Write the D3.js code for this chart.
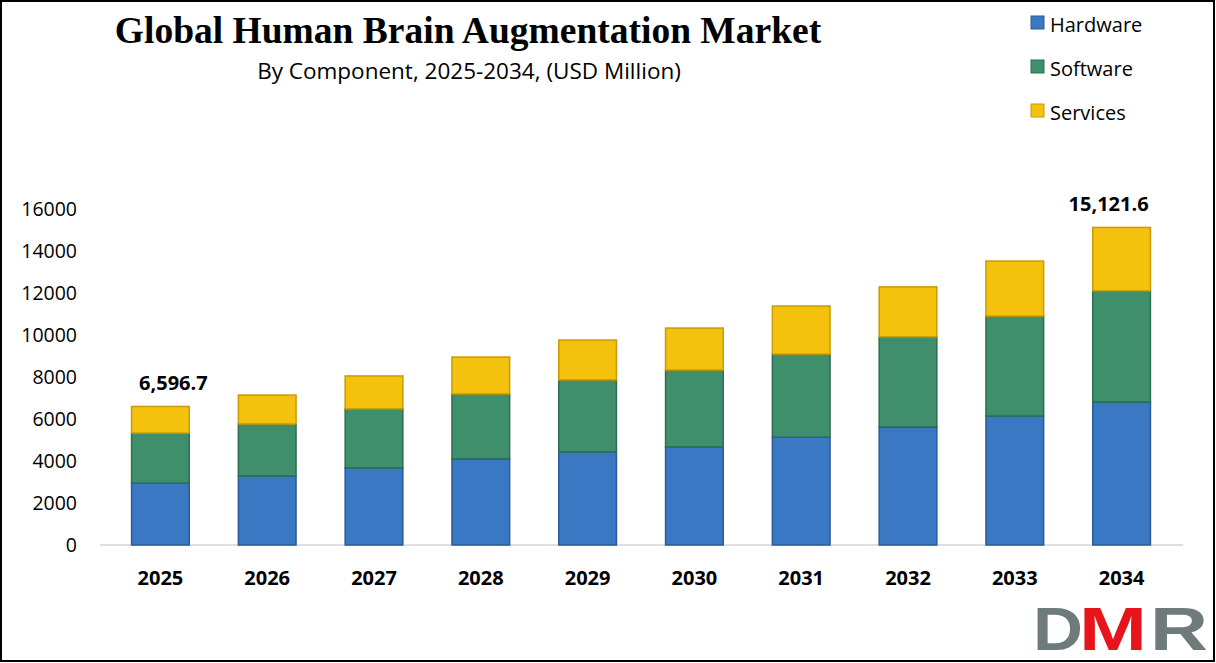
<!DOCTYPE html>
<html><head><meta charset="utf-8">
<script src="https://cdn.jsdelivr.net/npm/d3@7"></script>
<style>body{margin:0;background:#fff}svg{display:block}</style>
</head><body><svg id="c" width="1216" height="663"></svg>
<script>
const years=["2025","2026","2027","2028","2029","2030","2031","2032","2033","2034"];
const hardware=[2950,3290,3670,4100,4430,4670,5140,5620,6140,6810];
const software=[2380,2470,2810,3090,3430,3660,3950,4290,4760,5290];
const services=[1266.7,1380,1570,1760,1900,2000,2290,2380,2620,3021.6];
const totalLabels={"2025":"6,596.7","2034":"15,121.6"};
const yTicks=[0,2000,4000,6000,8000,10000,12000,14000,16000];
const seriesNames=["Hardware","Software","Services"];
const colors={Hardware:"#3a78c4",Software:"#3f8f6d",Services:"#f4c20d"};
const edges={Hardware:"#2a5a99",Software:"#2d6e52",Services:"#c99a05"};

const svg=d3.select("#c");
svg.append("rect").attr("x",1).attr("y",1).attr("width",1213).attr("height",660).attr("fill","#fff").attr("stroke","#000").attr("stroke-width",2);
const x=d3.scaleBand().domain(years).range([107,1175]).paddingInner(0.46).paddingOuter(0.23);
const y=d3.scaleLinear().domain([0,16000]).range([545,209]);
const data=years.map((yr,i)=>({year:yr,Hardware:hardware[i],Software:software[i],Services:services[i]}));
const stack=d3.stack().keys(seriesNames)(data);

svg.append("line").attr("x1",100).attr("x2",1183).attr("y1",y(0)).attr("y2",y(0)).attr("stroke","#bfbfbf");
const g=svg.append("g");
stack.forEach(s=>{
  g.selectAll(null).data(s).join("rect")
   .attr("x",d=>x(d.data.year)).attr("width",x.bandwidth())
   .attr("y",d=>y(d[1])).attr("height",d=>y(d[0])-y(d[1]))
   .attr("fill",colors[s.key]).attr("stroke",edges[s.key]).attr("stroke-width",1.5);
});
svg.append("g").selectAll("text").data(yTicks).join("text")
 .attr("x",77).attr("y",d=>y(d)+7).attr("text-anchor","end")
 .attr("font-family","'Open Sans', sans-serif").attr("font-size",19.5).attr("fill","#000").text(d=>d);
svg.append("g").selectAll("text").data(years).join("text")
 .attr("x",d=>x(d)+x.bandwidth()/2).attr("y",585).attr("text-anchor","middle")
 .attr("font-family","'Open Sans', sans-serif").attr("font-weight","bold").attr("font-size",20).text(d=>d);
data.forEach((d,i)=>{ if(totalLabels[d.year]){
  const off=i===0?13:-13;
  svg.append("text").attr("x",x(d.year)+x.bandwidth()/2+off).attr("y",y(d.Hardware+d.Software+d.Services)-16)
   .attr("text-anchor","middle").attr("font-family","'Open Sans', sans-serif").attr("font-weight","bold").attr("font-size",20).text(totalLabels[d.year]);
}});
svg.append("text").attr("x",468).attr("y",43).attr("text-anchor","middle")
 .attr("font-family","'Liberation Serif', 'Times New Roman', serif").attr("font-weight","bold").attr("font-size",37.5).text("Global Human Brain Augmentation Market");
svg.append("text").attr("x",469).attr("y",79).attr("text-anchor","middle")
 .attr("font-family","'Open Sans', sans-serif").attr("font-size",22.5).text("By Component, 2025-2034, (USD Million)");
seriesNames.forEach((n,i)=>{
  const ly=24+i*44;
  svg.append("rect").attr("x",1031).attr("y",ly-8).attr("width",13).attr("height",13).attr("fill",colors[n]).attr("stroke",edges[n]);
  svg.append("text").attr("x",1050).attr("y",ly+8).attr("font-family","'Open Sans', sans-serif").attr("font-size",20).text(n);
});
// logo
const lg=svg.append("g").attr("font-family","'Liberation Sans', Arial, sans-serif").attr("font-weight","bold").attr("font-size",62);
lg.append("text").attr("x",1033).attr("y",650).attr("fill","#6f7b7b").attr("textLength",50).attr("lengthAdjust","spacingAndGlyphs").text("D");
lg.append("text").attr("x",1079).attr("y",650).attr("fill","#e8141b").attr("textLength",68).attr("lengthAdjust","spacingAndGlyphs").text("M");
lg.append("text").attr("x",1150).attr("y",650).attr("fill","#6f7b7b").attr("textLength",58).attr("lengthAdjust","spacingAndGlyphs").text("R");
</script></body></html>
